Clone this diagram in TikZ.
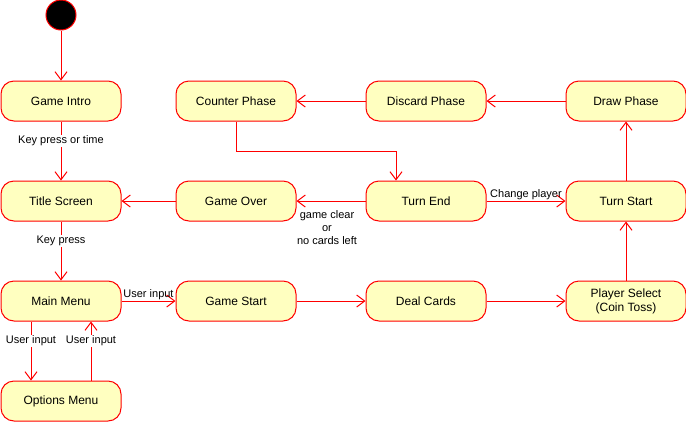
\documentclass[tikz,border=0pt]{standalone}
\usepackage{fontspec}
\setmainfont{Liberation Sans}
\usetikzlibrary{arrows.meta}
\definecolor{ln}{HTML}{FF0000}
\definecolor{fl}{HTML}{FFFFC0}
\tikzset{
  state/.style={draw=ln, fill=fl, line width=1pt, rounded corners=13pt, minimum width=120pt, minimum height=40pt, inner sep=0pt, font=\fontsize{12}{14}\selectfont},
  conn/.style={draw=ln, line width=1pt, -{Straight Barb[length=8pt,width=12pt,line width=1pt]}},
  lbl/.style={font=\fontsize{11}{13}\selectfont, inner sep=1pt, fill=white},
  lblc/.style={font=\fontsize{11}{13}\selectfont, inner sep=1pt, align=center}
}
\begin{document}
\begin{tikzpicture}[x=1pt,y=-1pt]
\useasboundingbox (0,0) rectangle (686,421);
\node[circle, draw=ln, fill=black, minimum size=30pt, inner sep=0pt, line width=1pt] (init) at (61,15) {};
\node[state] (intro) at (61,101) {Game Intro};
\node[state] (title) at (61,201) {Title Screen};
\node[state] (menu) at (61,301) {Main Menu};
\node[state] (opts) at (61,401) {Options Menu};
\node[state] (counter) at (236,101) {Counter Phase};
\node[state] (gameover) at (236,201) {Game Over};
\node[state] (gamestart) at (236,301) {Game Start};
\node[state] (discard) at (426,101) {Discard Phase};
\node[state] (turnend) at (426,201) {Turn End};
\node[state] (deal) at (426,301) {Deal Cards};
\node[state] (draw) at (626,101) {Draw Phase};
\node[state] (turnstart) at (626,201) {Turn Start};
\node[state, align=center, font=\fontsize{12}{14}\selectfont] (select) at (626,301) {Player Select\\(Coin Toss)};

\draw[conn] (init) -- (intro);
\draw[conn] (intro) -- node[lbl, pos=0.33] {Key press or time} (title);
\draw[conn] (title) -- node[lbl, pos=0.33] {Key press} (menu);
\draw[conn] (menu.east) -- node[lbl, above=0pt, fill=none] {User input} (gamestart.west);
\draw[conn] ([xshift=-30pt]menu.south) -- node[lbl, pos=0.33] {User input} ([xshift=-30pt]opts.north);
\draw[conn] ([xshift=30pt]opts.north) -- node[lbl, pos=0.67] {User input} ([xshift=30pt]menu.south);
\draw[conn] (gamestart) -- (deal);
\draw[conn] (deal) -- (select);
\draw[conn] (select) -- (turnstart);
\draw[conn] (turnstart) -- (draw);
\draw[conn] (draw) -- (discard);
\draw[conn] (discard) -- (counter);
\draw[conn] (counter.south) |- (396,151) -- ([xshift=-30pt]turnend.north);
\draw[conn] (turnend.east) -- node[lbl, above=0pt, fill=none] {Change player} (turnstart.west);
\draw[conn] (turnend) -- (gameover);
\node[lblc] (gclbl) at (327,228) {game clear\\or\\no cards left};
\draw[conn] (gameover) -- (title);
\end{tikzpicture}
\end{document}
